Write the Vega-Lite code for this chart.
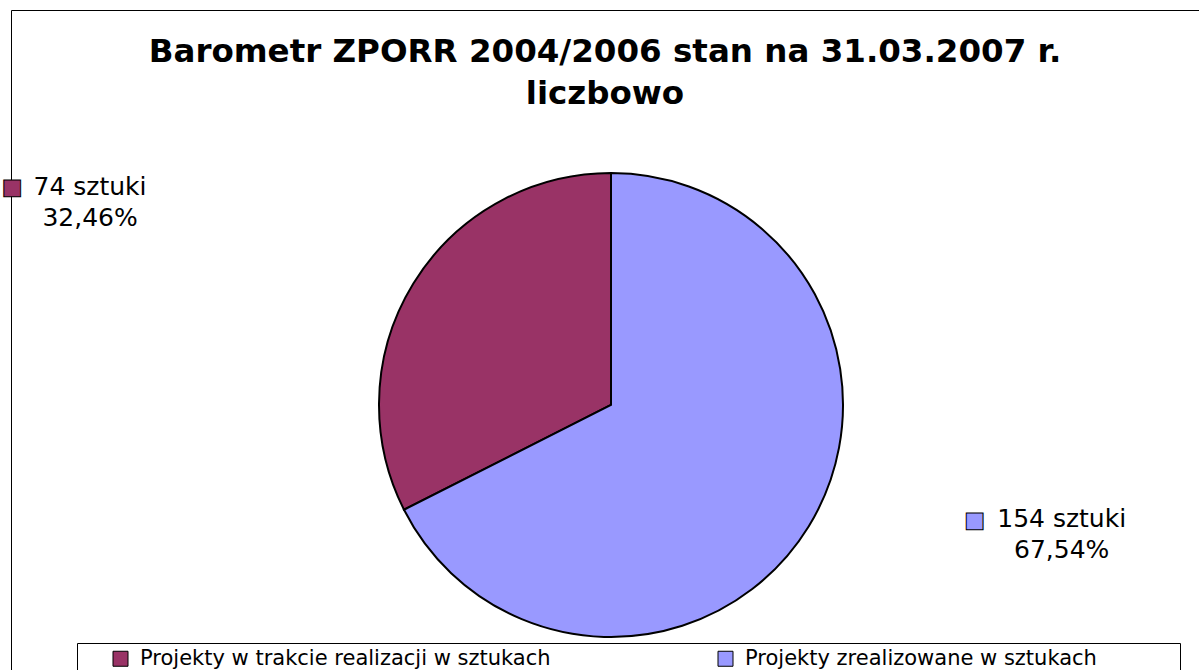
{
  "$schema": "https://vega.github.io/schema/vega-lite/v6.json",
  "width": 1200,
  "height": 790,
  "autosize": {"type": "none"},
  "padding": {"left": 11, "top": 10, "right": 0, "bottom": 0},
  "background": "white",
  "view": {"stroke": "black", "strokeWidth": 1},
  "config": {
    "view": {"stroke": "black", "strokeWidth": 1},
    "font": "DejaVu Sans"
  },
  "title": {
    "text": ["Barometr ZPORR 2004/2006 stan na 31.03.2007 r.", "liczbowo"],
    "font": "DejaVu Sans",
    "fontSize": 32.5,
    "fontWeight": "bold",
    "color": "black",
    "anchor": "middle",
    "frame": "group",
    "offset": -100,
    "lineHeight": 42,
    "dx": -6
  },
  "data": {
    "values": [
      {"category": "Projekty w trakcie realizacji w sztukach", "value": 74, "label": "74 sztuki\n32,46%"},
      {"category": "Projekty zrealizowane w sztukach", "value": 154, "label": "154 sztuki\n67,54%"}
    ]
  },
  "encoding": {
    "theta": {"field": "value", "type": "quantitative", "stack": true},
    "order": {"field": "category", "sort": "descending"}
  },
  "layer": [
    {
      "mark": {"type": "arc", "outerRadius": 232, "stroke": "black", "strokeWidth": 2},
      "encoding": {
        "color": {
          "field": "category",
          "type": "nominal",
          "scale": {
            "domain": ["Projekty w trakcie realizacji w sztukach", "Projekty zrealizowane w sztukach"],
            "range": ["#993366", "#9999FF"]
          },
          "legend": {
            "orient": "none",
            "legendX": 66,
            "legendY": 633,
            "direction": "horizontal",
            "title": "\u00a0",
            "titleOrient": "right",
            "titlePadding": 78,
            "titleFontSize": 21,
            "strokeColor": "black",
            "fillColor": "white",
            "padding": 5,
            "symbolType": "square",
            "symbolSize": 225,
            "symbolStrokeColor": "black",
            "symbolStrokeWidth": 1,
            "symbolOffset": 28,
            "labelFont": "DejaVu Sans",
            "labelFontSize": 21,
            "labelColor": "black",
            "labelOffset": 9,
            "labelLimit": 1000,
            "columnPadding": 136
          }
        }
      }
    },
    {
      "mark": {"type": "text", "radius": 554, "dx": -49, "dy": 80, "align": "center", "baseline": "alphabetic", "fontSize": 25, "lineHeight": 31, "lineBreak": "\n", "font": "DejaVu Sans"},
      "encoding": {
        "text": {"condition": {"test": "datum.category === 'Projekty w trakcie realizacji w sztukach'", "field": "label"}, "value": ""},
        "color": {"value": "black"}
      }
    },
    {
      "mark": {"type": "text", "radius": 448, "dx": 69, "dy": -113, "align": "center", "baseline": "alphabetic", "fontSize": 25, "lineHeight": 31, "lineBreak": "\n", "font": "DejaVu Sans"},
      "encoding": {
        "text": {"condition": {"test": "datum.category === 'Projekty zrealizowane w sztukach'", "field": "label"}, "value": ""},
        "color": {"value": "black"}
      }
    },
    {
      "mark": {"type": "text", "radius": 554, "dx": -127, "dy": 72, "align": "center", "baseline": "middle", "fontSize": 22, "stroke": "black", "strokeWidth": 1, "font": "DejaVu Sans"},
      "encoding": {
        "text": {"condition": {"test": "datum.category === 'Projekty w trakcie realizacji w sztukach'", "value": "■"}, "value": ""},
        "color": {"value": "#993366"}
      }
    },
    {
      "mark": {"type": "text", "radius": 448, "dx": -18, "dy": -120, "align": "center", "baseline": "middle", "fontSize": 22, "stroke": "black", "strokeWidth": 1, "font": "DejaVu Sans"},
      "encoding": {
        "text": {"condition": {"test": "datum.category === 'Projekty zrealizowane w sztukach'", "value": "■"}, "value": ""},
        "color": {"value": "#9999FF"}
      }
    }
  ]
}
